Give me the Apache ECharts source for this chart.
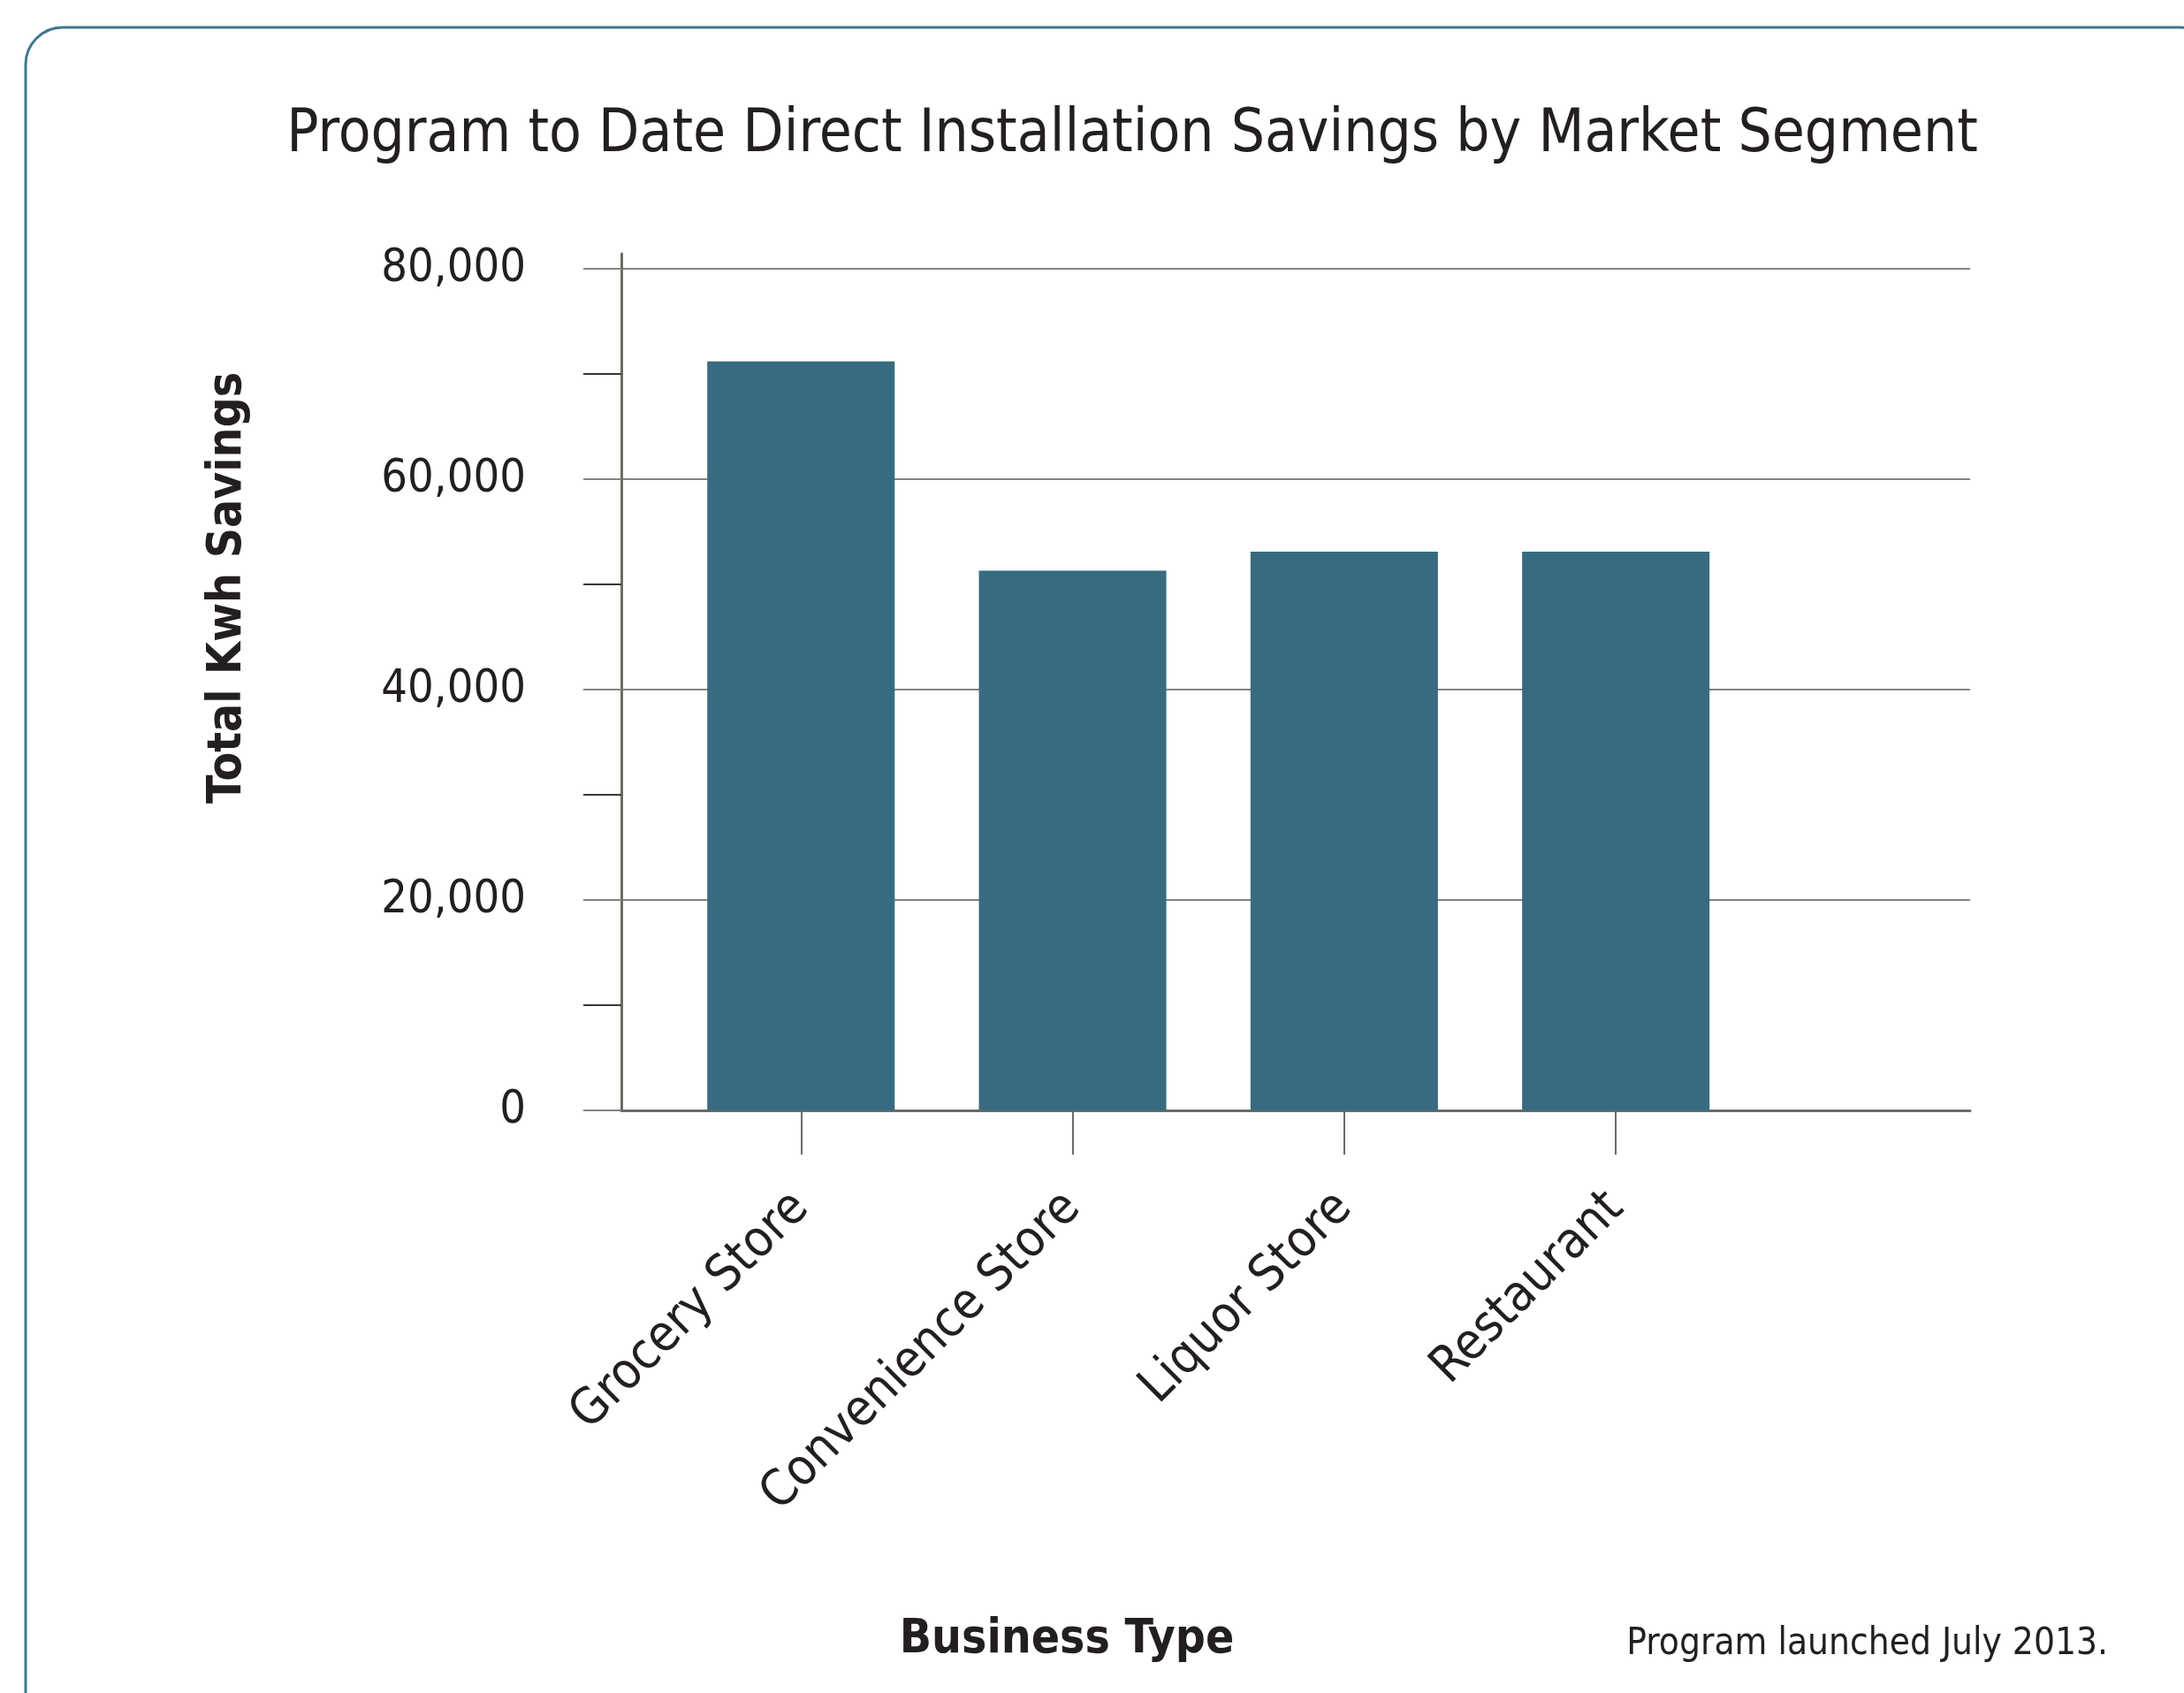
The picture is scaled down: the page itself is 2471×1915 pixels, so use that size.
<!DOCTYPE html>
<html><head><meta charset="utf-8">
<script src="https://cdn.jsdelivr.net/npm/echarts@6/dist/echarts.min.js"></script>
<style>html,body{margin:0;padding:0;background:#fff}#c{width:2471px;height:1915px}</style>
</head><body><div id="c"></div>
<script>
// ---- data ----
const categories = ['Grocery Store', 'Convenience Store', 'Liquor Store', 'Restaurant'];
const savings = [71200, 51300, 53100, 53100];
const yTickValues = [0, 20000, 40000, 60000, 80000];
const yTickLabels = ['0', '20,000', '40,000', '60,000', '80,000'];
const titleText = 'Program to Date Direct Installation Savings by Market Segment';
const yAxisTitle = 'Total Kwh Savings';
const xAxisTitle = 'Business Type';
const noteText = 'Program launched July 2013.';

// ---- styling ----
const FONT = "'DejaVu Sans Condensed', 'Liberation Sans Narrow', 'Liberation Sans', sans-serif";
const TXT = '#231f20';
const AXIS = '#6e6a65';
const GRID = '#858280';
const BAR = '#386b81';
const BORDER = '#41768f';

const chart = echarts.init(document.getElementById('c'), null, {renderer: 'canvas'});
const yMax = yTickValues[yTickValues.length - 1];
const yInt = yTickValues[1] - yTickValues[0];

const option = {
  backgroundColor: '#ffffff',
  animation: false,
  textStyle: {fontFamily: FONT},
  grid: [
    {left: 703, top: 304, width: 1526, height: 952, outerBoundsMode: 'none', containLabel: false},
    {left: 752.6, top: 304, width: 1229.2, height: 952, outerBoundsMode: 'none', containLabel: false},
    {left: 703, top: 287, width: 1526, height: 969, outerBoundsMode: 'none', containLabel: false}
  ],
  xAxis: [
    {gridIndex: 0, type: 'value', min: 0, max: 1,
      axisLine: {show: true, lineStyle: {color: AXIS, width: 3}},
      axisTick: {show: false}, axisLabel: {show: false}, splitLine: {show: false}},
    {gridIndex: 1, type: 'category', data: categories,
      axisLine: {show: false},
      axisTick: {show: true, alignWithLabel: true, length: 50, lineStyle: {color: AXIS, width: 2}},
      axisLabel: {show: true, interval: 0, rotate: 45, margin: 102, fontSize: 57,
        color: TXT, fontFamily: FONT, hideOverlap: false},
      splitLine: {show: false}},
    {gridIndex: 2, type: 'value', min: 0, max: 1, show: false}
  ],
  yAxis: [
    {gridIndex: 0, type: 'value', min: 0, max: yMax, interval: yInt,
      axisLine: {show: false},
      axisTick: {show: true, length: 43, lineStyle: {color: GRID, width: 2}},
      minorTick: {show: true, splitNumber: 2, length: 43, lineStyle: {color: '#3a3735', width: 2}},
      axisLabel: {show: true, margin: 108, fontSize: 52, color: TXT, fontFamily: FONT,
        formatter: function (v) { const i = yTickValues.indexOf(v); return i >= 0 ? yTickLabels[i] : ''; }},
      splitLine: {show: true, lineStyle: {color: GRID, width: 2}}},
    {gridIndex: 1, type: 'value', min: 0, max: yMax, interval: yInt, show: false},
    {gridIndex: 2, type: 'value', min: 0, max: 1,
      axisLine: {show: true, lineStyle: {color: AXIS, width: 3}},
      axisTick: {show: false}, axisLabel: {show: false}, splitLine: {show: false}}
  ],
  series: [{
    type: 'bar', xAxisIndex: 1, yAxisIndex: 1,
    data: savings, barCategoryGap: '31%',
    itemStyle: {color: BAR},
    z: 5
  }],
  graphic: [
    {type: 'rect', shape: {x: 29, y: 31, width: 2480, height: 2000, r: 42},
      style: {fill: 'none', stroke: BORDER, lineWidth: 3}, silent: true, z: -1},
    {type: 'text', x: 1281, y: 154,
      style: {text: titleText, font: '67px ' + FONT, fill: TXT, align: 'center', verticalAlign: 'middle'}},
    {type: 'text', x: 258, y: 665, rotation: Math.PI / 2,
      style: {text: yAxisTitle, font: 'bold 53px ' + FONT, fill: TXT, align: 'center', verticalAlign: 'middle'}},
    {type: 'text', x: 1207, y: 1855,
      style: {text: xAxisTitle, font: 'bold 53px ' + FONT, fill: TXT, align: 'center', verticalAlign: 'middle'}},
    {type: 'text', x: 2385, y: 1860,
      style: {text: noteText, font: '42px ' + FONT, fill: TXT, align: 'right', verticalAlign: 'middle'}}
  ]
};
chart.setOption(option);
</script>
</body></html>
